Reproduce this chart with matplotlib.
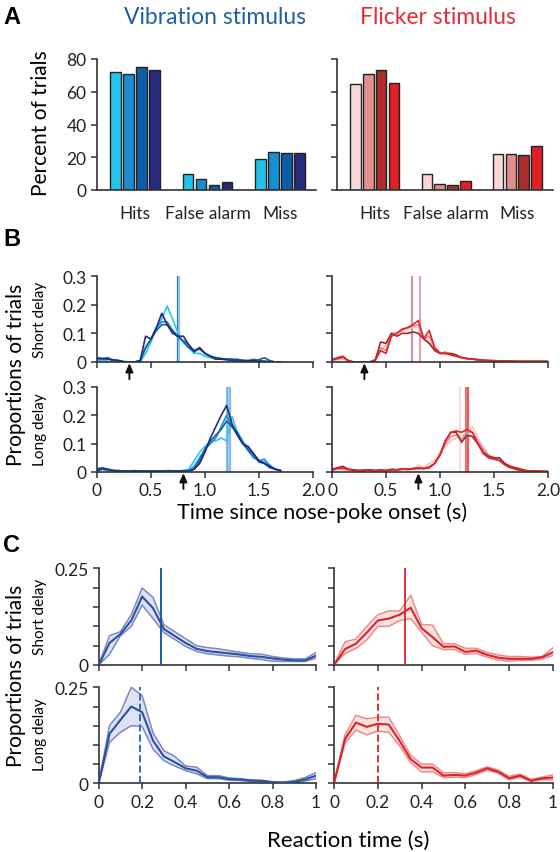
import numpy as np
import matplotlib
matplotlib.use("Agg")
import matplotlib.pyplot as plt

plt.rcParams["font.family"] = ["Lato", "DejaVu Sans"]

W, H = 560, 853

# ── Panel A data ──────────────────────────────────────────
outcomes = ["Hits", "False alarm", "Miss"]
vib_pct = [[72, 71, 75, 73], [9.5, 6.5, 3, 5], [19, 23, 22.5, 22.5]]
flk_pct = [[65, 71, 73, 65.5], [10, 3.5, 3, 5.5], [22, 22, 21.5, 27]]
vib_cols = ["#22c4ee", "#1a8ed2", "#0f5cab", "#27297a"]
flk_cols = ["#f8d8d8", "#e48e8e", "#ad2d2d", "#e01f27"]

# ── Panel B data (bins of 0.05 s) ─────────────────────────
t_b = np.arange(41) * 0.05
nan = np.nan
vib_short = [
    [0.005, 0.005, 0.003, 0, 0, 0, 0, 0, 0, 0.03, 0.07, 0.12, 0.15, 0.195, 0.15, 0.10, 0.07, 0.05, 0.03, 0.03,
     0.02, 0.015, 0.01, 0.01, 0.008, 0.005, 0.005, 0.005, 0.003, 0.003, 0.002, 0.002, 0, 0, 0] + [nan] * 6,
    [0.012, 0.01, 0.012, 0.005, 0.005, 0, 0, 0, 0.005, 0.05, 0.08, 0.12, 0.14, 0.14, 0.11, 0.085, 0.075, 0.06, 0.04, 0.05,
     0.03, 0.02, 0.015, 0.012, 0.01, 0.008, 0.01, 0.005, 0.005, 0.01, 0.005, 0.003, 0.002, 0, 0] + [nan] * 6,
    [0.01, 0.012, 0.015, 0.005, 0.005, 0.002, 0, 0, 0.005, 0.05, 0.08, 0.11, 0.13, 0.13, 0.11, 0.09, 0.07, 0.05, 0.04, 0.045,
     0.03, 0.02, 0.015, 0.012, 0.01, 0.01, 0.008, 0.005, 0.005, 0.005, 0.008, 0.015, 0.005, 0, 0] + [nan] * 6,
    [0.015, 0.012, 0.01, 0.008, 0.005, 0, 0, 0, 0.005, 0.09, 0.08, 0.12, 0.17, 0.13, 0.1, 0.09, 0.09, 0.06, 0.035, 0.05,
     0.03, 0.02, 0.01, 0.01, 0.008, 0.006, 0.005, 0.005, 0.004, 0.004, 0.003, 0.002, 0, 0, 0] + [nan] * 6,
]
vib_long = [
    [0.005, 0.01, 0.005, 0.005, 0.003, 0.003, 0.003, 0.003, 0.003, 0.003, 0.003, 0.003, 0.003, 0.005, 0.005, 0.003, 0.005,
     0.01, 0.04, 0.07, 0.09, 0.11, 0.11, 0.12, 0.11, 0.195, 0.14, 0.11, 0.08, 0.06, 0.04, 0.035, 0.025, 0.01, 0.005] + [nan] * 6,
    [0.01, 0.012, 0.01, 0.005, 0.005, 0.003, 0.003, 0.005, 0.003, 0.003, 0.003, 0.003, 0.003, 0.003, 0.003, 0.003, 0.005,
     0.005, 0.02, 0.05, 0.08, 0.1, 0.12, 0.16, 0.2, 0.16, 0.13, 0.1, 0.075, 0.05, 0.04, 0.045, 0.02, 0.01, 0.005] + [nan] * 6,
    [0.012, 0.015, 0.01, 0.005, 0.005, 0.003, 0.003, 0.003, 0.003, 0.003, 0.003, 0.003, 0.003, 0.003, 0.003, 0.003, 0.003,
     0.003, 0.01, 0.04, 0.08, 0.11, 0.13, 0.15, 0.18, 0.16, 0.14, 0.1, 0.08, 0.06, 0.035, 0.03, 0.015, 0.01, 0.005] + [nan] * 6,
    [0.005, 0.01, 0.008, 0.005, 0.003, 0.003, 0.003, 0.003, 0.003, 0.003, 0.003, 0.003, 0.003, 0.003, 0.003, 0.003, 0.003,
     0.003, 0.01, 0.03, 0.07, 0.12, 0.16, 0.2, 0.235, 0.17, 0.13, 0.1, 0.09, 0.065, 0.04, 0.03, 0.02, 0.01, 0.005] + [nan] * 6,
]
flk_short = [
    [0.005, 0.008, 0.01, 0.003, 0, 0, 0, 0, 0.01, 0.04, 0.06, 0.09, 0.1, 0.11, 0.115, 0.12, 0.12, 0.09, 0.07, 0.05, 0.035,
     0.03, 0.025, 0.02, 0.015, 0.01, 0.01, 0.008, 0.005, 0.005, 0.005, 0.004, 0.003, 0.003, 0.003, 0.002, 0.002, 0.002,
     0.002, 0.002, 0.002],
    [0.005, 0.01, 0.015, 0.005, 0, 0, 0, 0, 0.01, 0.05, 0.04, 0.1, 0.1, 0.11, 0.12, 0.125, 0.13, 0.08, 0.09, 0.05, 0.03,
     0.035, 0.025, 0.02, 0.015, 0.012, 0.01, 0.008, 0.006, 0.005, 0.005, 0.004, 0.003, 0.003, 0.003, 0.002, 0.002, 0.002,
     0.002, 0.002, 0.002],
    [0.008, 0.015, 0.02, 0.005, 0, 0, 0, 0, 0.005, 0.07, 0.065, 0.1, 0.09, 0.1, 0.1, 0.105, 0.1, 0.08, 0.065, 0.04, 0.03,
     0.03, 0.03, 0.025, 0.015, 0.012, 0.01, 0.008, 0.006, 0.005, 0.004, 0.003, 0.003, 0.003, 0.002, 0.002, 0.002, 0.002,
     0.002, 0.002, 0.002],
    [0.008, 0.012, 0.018, 0.005, 0, 0, 0, 0, 0.005, 0.04, 0.03, 0.09, 0.1, 0.115, 0.12, 0.13, 0.145, 0.08, 0.11, 0.05, 0.03,
     0.03, 0.025, 0.02, 0.015, 0.012, 0.01, 0.008, 0.006, 0.005, 0.004, 0.003, 0.003, 0.003, 0.002, 0.002, 0.002, 0.002,
     0.002, 0.002, 0.002],
]
flk_long = [
    [0.005, 0.01, 0.008, 0.005, 0.005, 0.005, 0.005, 0.005, 0.005, 0.005, 0.005, 0.005, 0.005, 0.008, 0.008, 0.01, 0.025,
     0.015, 0.03, 0.04, 0.07, 0.09, 0.11, 0.12, 0.13, 0.13, 0.16, 0.12, 0.09, 0.06, 0.05, 0.04, 0.03, 0.02, 0.01, 0.005,
     0.005, 0.003, 0.003, 0.002, 0.002],
    [0.005, 0.012, 0.01, 0.008, 0.005, 0.005, 0.005, 0.008, 0.005, 0.008, 0.005, 0.005, 0.008, 0.01, 0.008, 0.01, 0.015,
     0.012, 0.02, 0.03, 0.06, 0.1, 0.125, 0.13, 0.115, 0.14, 0.14, 0.11, 0.08, 0.06, 0.05, 0.045, 0.03, 0.02, 0.01, 0.005,
     0.005, 0.003, 0.003, 0.002, 0.002],
    [0.01, 0.015, 0.02, 0.01, 0.008, 0.005, 0.005, 0.008, 0.005, 0.005, 0.005, 0.008, 0.008, 0.01, 0.01, 0.012, 0.012,
     0.012, 0.015, 0.03, 0.06, 0.11, 0.14, 0.14, 0.105, 0.13, 0.125, 0.1, 0.07, 0.055, 0.05, 0.05, 0.03, 0.02, 0.015, 0.01,
     0.005, 0.003, 0.003, 0.002, 0.002],
    [0.008, 0.012, 0.015, 0.01, 0.005, 0.005, 0.008, 0.005, 0.005, 0.008, 0.005, 0.01, 0.008, 0.01, 0.01, 0.012, 0.015,
     0.012, 0.015, 0.03, 0.06, 0.11, 0.14, 0.145, 0.14, 0.15, 0.14, 0.1, 0.065, 0.05, 0.045, 0.04, 0.025, 0.015, 0.01,
     0.005, 0.004, 0.003, 0.003, 0.002, 0.002],
]
vib_b_cols = ["#2cc4ee", "#1b8ed0", "#0f5eaa", "#262a78"]
flk_b_cols = ["#f2c2c2", "#e08a8a", "#9e2a2a", "#e0242c"]
# mean response times (vertical markers) and cue times (arrows)
vib_short_rt = [0.75, 0.763]
vib_long_rt = [1.20, 1.21, 1.22, 1.23]
flk_short_rt = [0.745, 0.815]
flk_long_rt = [1.185, 1.245, 1.26]
cue_short, cue_long = 0.3, 0.8

# ── Panel C data (reaction-time histograms, mean and band) ─
t_c = np.arange(21) * 0.05
vs_mean = [0, .057, .08, .115, .177, .147, .093, .075, .057, .042, .036, .033, .03, .027, .023, .021, .017, .014, .012, .012, .024]
vs_up = [0, .076, .086, .13, .199, .175, .104, .086, .068, .05, .045, .042, .037, .033, .029, .028, .022, .018, .016, .016, .032]
vs_lo = [0, .028, .076, .1, .155, .12, .084, .066, .048, .035, .029, .026, .023, .021, .017, .014, .01, .009, .009, .009, .018]
fs_mean = [0, .041, .055, .084, .115, .12, .13, .148, .095, .072, .047, .048, .034, .037, .026, .019, .016, .016, .016, .02, .033]
fs_up = [0, .06, .067, .1, .13, .14, .14, .18, .105, .103, .055, .055, .043, .043, .032, .026, .022, .022, .02, .022, .045]
fs_lo = [0, .03, .043, .065, .1, .1, .115, .12, .085, .05, .04, .04, .028, .03, .02, .013, .01, .012, .012, .015, .025]
vl_mean = [0, .129, .165, .2, .185, .111, .07, .055, .039, .033, .016, .016, .011, .01, .007, .006, .003, .002, .004, .01, .02]
vl_up = [0, .151, .185, .25, .228, .131, .085, .07, .045, .042, .02, .02, .014, .012, .009, .008, .004, .003, .007, .015, .028]
vl_lo = [0, .107, .133, .15, .148, .089, .059, .045, .033, .025, .012, .012, .008, .007, .005, .004, .002, .001, .002, .006, .012]
fl_mean = [0, .115, .158, .147, .155, .153, .11, .063, .041, .041, .02, .022, .02, .028, .039, .03, .013, .02, .007, .013, .015]
fl_up = [0, .125, .177, .168, .172, .172, .123, .073, .05, .05, .027, .028, .025, .033, .043, .034, .018, .024, .01, .016, .022]
fl_lo = [0, .105, .139, .126, .136, .133, .097, .054, .03, .03, .015, .016, .015, .023, .034, .026, .009, .016, .004, .01, .008]
rt_marks = {"vs": 0.285, "fs": 0.325, "vl": 0.19, "fl": 0.2}

SPINE = "#333333"
fig = plt.figure(figsize=(W / 100, H / 100), dpi=100)


def px_axes(x0, x1, ytop, ybot):
    ax = fig.add_axes([x0 / W, 1 - ybot / H, (x1 - x0) / W, (ybot - ytop) / H])
    for s in ("top", "right"):
        ax.spines[s].set_visible(False)
    for s in ("left", "bottom"):
        ax.spines[s].set_color(SPINE)
        ax.spines[s].set_linewidth(1.2)
    ax.tick_params(direction="out", length=4, width=1.1, color=SPINE, labelcolor="#222222")
    return ax


def ftext(x, y, s, **kw):
    fig.text(x / W, 1 - y / H, s, ha="center", va="center", **kw)


# ── A: bar charts ─────────────────────────────────────────
for x0, x1, vals, cols, show in [(97, 316, vib_pct, vib_cols, True), (337, 553, flk_pct, flk_cols, False)]:
    ax = px_axes(x0, x1, 60, 191)
    for g, grp in enumerate(vals):
        for i, v in enumerate(grp):
            ax.bar(g + (i - 1.5) * 0.18, v, width=0.148, color=cols[i], edgecolor="#222222", lw=1.0)
    ax.set_xlim(-0.53, 2.5)
    ax.set_ylim(0, 80)
    ax.set_yticks([0, 20, 40, 60, 80])
    ax.set_xticks(range(3))
    ax.set_xticklabels(outcomes, fontsize=12.5)
    ax.tick_params(axis="x", length=0, pad=11)
    ax.tick_params(axis="y", labelsize=12.5)
    if not show:
        ax.set_yticklabels([])

ftext(215, 17, "Vibration stimulus", fontsize=16.5, color="#1f5fa8")
ftext(438, 17, "Flicker stimulus", fontsize=16.5, color="#e0303a")
ftext(41, 123, "Percent of trials", fontsize=15, rotation=90)

# ── B: response-time distributions ────────────────────────
b_specs = [
    (97, 313, 277, 363, vib_short, vib_b_cols, vib_short_rt, ["#2a6ab8", "#86c6ec"], cue_short, True, False),
    (97, 313, 388, 473, vib_long, vib_b_cols, vib_long_rt, ["#8cc4ea", "#6aa8dc", "#a6d2f0", "#86bce4"], cue_long, True, True),
    (332, 548, 277, 363, flk_short, flk_b_cols, flk_short_rt, ["#cf9a9a", "#d9aaaa"], cue_short, False, False),
    (332, 548, 388, 473, flk_long, flk_b_cols, flk_long_rt, ["#f5dede", "#d77a7a", "#e46060"], cue_long, False, True),
]
for x0, x1, yt, yb, series, cols, rts, rcols, cue, left, bottom in b_specs:
    ax = px_axes(x0, x1, yt, yb)
    for xv, c in zip(rts, rcols):
        ax.axvline(xv, color=c, lw=1.6, zorder=1)
    for ser, c in zip(series, cols):
        ax.plot(t_b, ser, color=c, lw=1.2, zorder=2)
    ax.set_xlim(0, 2.0)
    ax.set_ylim(0, 0.3)
    ax.set_xticks([0, 0.5, 1.0, 1.5, 2.0])
    ax.set_yticks([0, 0.1, 0.2, 0.3])
    ax.set_yticklabels(["0", "0.1", "0.2", "0.3"] if left else [], fontsize=12.5)
    ax.set_xticklabels(["0", "0.5", "1.0", "1.5", "2.0"] if bottom else [], fontsize=12.5)
    ax.annotate("", xy=(cue, -0.004), xytext=(cue, -0.06), annotation_clip=False,
                arrowprops=dict(arrowstyle="-|>,head_length=0.5,head_width=0.22", color="#111111",
                                lw=1.4, shrinkA=0, shrinkB=0))

ftext(322, 513, "Time since nose-poke onset (s)", fontsize=15.5)
ftext(16, 375, "Proportions of trials", fontsize=15, rotation=90)
ftext(40, 320, "Short delay", fontsize=11, rotation=90)
ftext(40, 430, "Long delay", fontsize=11, rotation=90)

# ── C: reaction-time distributions ────────────────────────
c_specs = [
    (98.7, 316, 569.3, 666, vs_mean, vs_up, vs_lo, "#2a52a0", "#7b86c4", "#dfe2f2", rt_marks["vs"], "#1f5aa6", "-", True, False),
    (98.7, 316, 688.3, 784.3, vl_mean, vl_up, vl_lo, "#2a52a0", "#7b86c4", "#dfe2f2", rt_marks["vl"], "#2a72b8", "--", True, True),
    (334, 553, 569.3, 666, fs_mean, fs_up, fs_lo, "#d6252c", "#f08a8a", "#fde2e0", rt_marks["fs"], "#e0303a", "-", False, False),
    (334, 553, 688.3, 784.3, fl_mean, fl_up, fl_lo, "#d6252c", "#f08a8a", "#fde2e0", rt_marks["fl"], "#e0303a", "--", False, True),
]
for x0, x1, yt, yb, m, up, lo, mc, ec, fc, rt, rc, ls, left, bottom in c_specs:
    ax = px_axes(x0, x1, yt, yb)
    ax.fill_between(t_c, lo, up, color=fc, lw=0, zorder=1)
    ax.plot(t_c, up, color=ec, lw=1.1, zorder=2)
    ax.plot(t_c, lo, color=ec, lw=1.1, zorder=2)
    ax.plot(t_c, m, color=mc, lw=1.5, zorder=3)
    ax.axvline(rt, color=rc, lw=1.4, ls=ls, zorder=4)
    ax.set_xlim(0, 1)
    ax.set_ylim(0, 0.25)
    ax.set_xticks([0, 0.2, 0.4, 0.6, 0.8, 1.0])
    ax.set_yticks([0, 0.05, 0.1, 0.15, 0.2, 0.25])
    ax.set_yticklabels(["0", "", "", "", "", "0.25"] if left else [], fontsize=12.5)
    ax.set_xticklabels(["0", "0.2", "0.4", "0.6", "0.8", "1"] if bottom else [], fontsize=12.5)

ftext(348, 841, "Reaction time (s)", fontsize=16)
ftext(16, 676, "Proportions of trials", fontsize=15, rotation=90)
ftext(40, 617, "Short delay", fontsize=11, rotation=90)
ftext(40, 735, "Long delay", fontsize=11, rotation=90)

# panel letters
for lab, y in [("A", 17), ("B", 240), ("C", 545)]:
    fig.text(12 / W, 1 - y / H, lab, fontsize=17, fontweight="bold", ha="center", va="center",
             family=["Liberation Sans", "DejaVu Sans"])

fig.savefig("out.png", dpi=100)
